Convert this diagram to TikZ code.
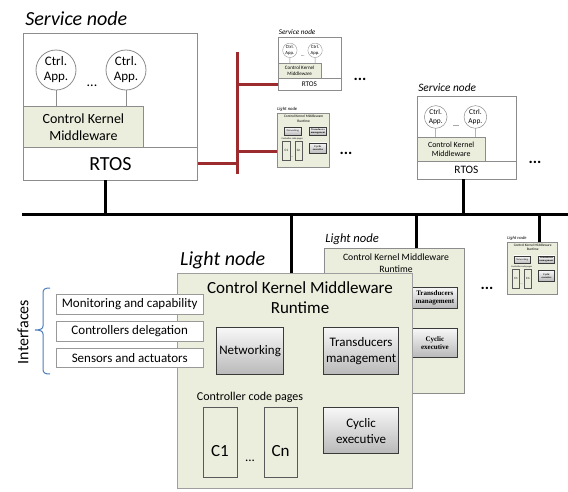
\documentclass[tikz,border=0pt]{standalone}
\usepackage{fontspec}
\setmainfont{Carlito}
\newfontfamily\tinyserif{Liberation Serif}
\usetikzlibrary{calc}
\definecolor{ckgreen}{HTML}{EBEEDD}
\definecolor{nodegray}{HTML}{8C8C8C}
\definecolor{redbus}{HTML}{9C2B2E}
\definecolor{bracecol}{HTML}{4A7EBB}
\definecolor{boxedge}{HTML}{3A3A3A}
\newcommand{\fs}[2]{\fontsize{#1}{#2}\selectfont}
\newif\ifshowleftpart
\showleftparttrue
\tikzset{
  snbox/.style={draw=nodegray, fill=white, inner sep=0pt},
  ckbox/.style={draw=nodegray, fill=ckgreen, inner sep=0pt},
  app/.style={circle, draw=nodegray, fill=white, minimum size=40pt, inner sep=0pt, align=center, font=\fs{13}{15}},
  gbox/.style={draw=boxedge, top color=gray!6, bottom color=gray!55, align=center, inner sep=0pt},
  page/.style={draw=gray!70!black, fill=ckgreen, inner sep=0pt},
  ifbox/.style={draw=gray!80, fill=white, minimum width=147pt, minimum height=20pt, inner sep=0pt, anchor=north west, font=\fs{13}{15}},
  busline/.style={line width=3pt, black},
  redline/.style={line width=3pt, redbus},
  dots/.style={font=\fs{16}{16}\bfseries, inner sep=0pt},
  pics/servicenode/.style={code={
    \node[snbox, anchor=north west, minimum width=174pt, minimum height=147pt] (-box) at (0,0) {};
    \node[snbox, anchor=north west, minimum width=174pt, minimum height=33pt, font=\fs{20}{22}] (-rtos) at (0,114) {RTOS};
    \node[ckbox, anchor=north west, minimum width=120pt, minimum height=41pt, align=center, font=\fs{14}{17}] (-ck) at (0,73) {Control Kernel\\Middleware};
    \node[app] (-a1) at (33,37) {Ctrl.\\App.};
    \node[app] (-a2) at (103,37) {Ctrl.\\App.};
    \draw[draw=nodegray] (-a1) -- (-a1 |- -ck.north);
    \draw[draw=nodegray] (-a2) -- (-a2 |- -ck.north);
    \node[font=\fs{14}{14}] (-dots) at (69,53) {...};
    \node[anchor=base west, inner sep=0pt, font=\fs{20}{22}\itshape] (-label) at (2,-8) {Service node};
    \coordinate (-tap) at (82,147);
  }},
  pics/lightnode/.style={code={
    \node[ckbox, anchor=north west, minimum width=140pt, minimum height=145pt] (-box) at (0,0) {};
    \node[align=center, font=\fs{9.7}{12}] (-title) at (72,15) {Control Kernel Middleware\\Runtime};
    \node[anchor=base west, inner sep=0pt, font=\fs{12.6}{14}\itshape] (-label) at (1,-6) {Light node};
    \node[gbox, anchor=north west, minimum width=45pt, minimum height=21pt, font=\tinyserif\bfseries\fs{7}{8}] (-trans) at (88,39) {Transducers\\management};
    \node[gbox, anchor=north west, minimum width=45pt, minimum height=29pt, font=\tinyserif\bfseries\fs{7}{8}] (-cyc) at (88,80) {Cyclic\\executive};
    \ifshowleftpart
    \node[gbox, anchor=north west, minimum width=45pt, minimum height=21pt, font=\tinyserif\fs{7}{8}] (-net) at (20,39) {Networking};
    \node[font=\fs{6.5}{7}] (-cpages) at (41,70) {Controller code pages};
    \node[page, anchor=north west, minimum width=20pt, minimum height=52pt, font=\fs{9}{9}] (-c1) at (15,76) {C1};
    \node[page, anchor=north west, minimum width=20pt, minimum height=52pt, font=\fs{9}{9}] (-cn) at (48,76) {Cn};
    \node[font=\fs{8}{8}] (-cdots) at (41.5,120) {...};
    \fi
    \coordinate (-tap) at (92,0);
    \coordinate (-port) at (0,105);
  }},
}
\begin{document}
\begin{tikzpicture}[x=1pt,y=-1pt]
\useasboundingbox (0,0) rectangle (568,491);

% service nodes
\begin{scope}[shift={(23,33)}, line width=0.8pt]
  \pic (sn1) at (0,0) {servicenode};
\end{scope}
\begin{scope}[shift={(417,96)}, scale=0.567, transform shape, line width=0.5pt]
  \pic (sn2) at (0,0) {servicenode};
\end{scope}
\begin{scope}[shift={(278,37)}, scale=0.36, transform shape, line width=0.35pt]
  \pic (sn3) at (0,0) {servicenode};
\end{scope}

% small light nodes
\begin{scope}[shift={(277,113)}, scale=0.37, transform shape, line width=0.3pt]
  \pic (ln3) at (0,0) {lightnode};
\end{scope}
\begin{scope}[shift={(507,242)}, scale=0.357, transform shape, line width=0.3pt]
  \pic (ln4) at (0,0) {lightnode};
\end{scope}
% middle light node (its left part is hidden behind the big one)
\showleftpartfalse
\begin{scope}[shift={(324,248)}, line width=0.7pt]
  \pic (ln2) at (0,0) {lightnode};
\end{scope}
\showleftparttrue

% big light node
\node[ckbox, draw=gray!75, line width=0.8pt, anchor=north west, minimum width=235pt, minimum height=215pt] (ln1) at (177,273) {};
\node[anchor=base west, inner sep=0pt, font=\fs{20}{22}\itshape] (ln1label) at (180,265) {Light node};
\node[align=center, font=\fs{17}{20}] (ln1title) at (300,298) {Control Kernel Middleware\\Runtime};
\node[gbox, line width=1.2pt, anchor=north west, minimum width=67pt, minimum height=47pt, font=\fs{13}{16}] (ln1net) at (216,327) {Networking};
\node[gbox, line width=1.2pt, anchor=north west, minimum width=75pt, minimum height=47pt, font=\fs{13}{16}] (ln1trans) at (323,327) {Transducers\\management};
\node[font=\fs{12}{14}] (ln1cp) at (250,397) {Controller code pages};
\node[page, line width=0.6pt, anchor=north west, minimum width=34pt, minimum height=70pt] (ln1c1) at (203,407) {};
\node[page, line width=0.6pt, anchor=north west, minimum width=33pt, minimum height=70pt] (ln1cn) at (264,407) {};
\node[font=\fs{17}{17}] (ln1c1t) at (220,451) {C1};
\node[font=\fs{17}{17}] (ln1cnt) at (280.5,451) {Cn};
\node[font=\fs{13}{13}] (ln1dots) at (250,461) {...};
\node[gbox, line width=1.2pt, anchor=north west, minimum width=75pt, minimum height=46pt, font=\fs{13}{16}] (ln1cyc) at (323,407) {Cyclic\\executive};
\coordinate (ln1tap) at (291,273);

% interfaces
\node[ifbox] (if1) at (56,294) {Monitoring and capability};
\node[ifbox] (if2) at (56,321) {Controllers delegation};
\node[ifbox, minimum height=19pt] (if3) at (56,348) {Sensors and actuators};
\node[rotate=90, font=\fs{16}{16}] (iflabel) at (23,332) {Interfaces};
\draw[bracecol, line width=1pt] (50,288) .. controls (45,288) and (43,289) .. (43,293) -- (43,326)
  .. controls (43,329) and (40,330) .. (35,330) .. controls (40,330) and (43,331) .. (43,334) -- (43,369)
  .. controls (43,373) and (45,374) .. (50,374);

% dots
\node[dots] (d1) at (360,79) {...};
\node[dots] (d2) at (346,153) {...};
\node[dots] (d3) at (535,162) {...};
\node[dots] (d4) at (487,288) {...};

% bus
\coordinate (busL) at (22,214);
\coordinate (busR) at (570,214);
\draw[busline] (busL) -- (busR);
\draw[busline] (sn1-tap) -- (sn1-tap |- busL);
\draw[busline] (sn2-tap) -- (sn2-tap |- busL);
\draw[busline] (ln1tap) -- (ln1tap |- busL);
\draw[busline] (ln2-tap) -- (ln2-tap |- busL);
\draw[busline] (ln4-tap) -- (ln4-tap |- busL);

% red links
\coordinate (rtop) at (237,52);
\coordinate (rbot) at (237,174);
\draw[redline] (rtop) -- (rbot);
\draw[redline] (sn1-rtos.east) -- (sn1-rtos.east -| rtop);
\draw[redline] (sn3-rtos.west -| rtop) -- (sn3-rtos.west);
\draw[redline] (ln3-port -| rtop) -- (ln3-port);
\end{tikzpicture}
\end{document}
